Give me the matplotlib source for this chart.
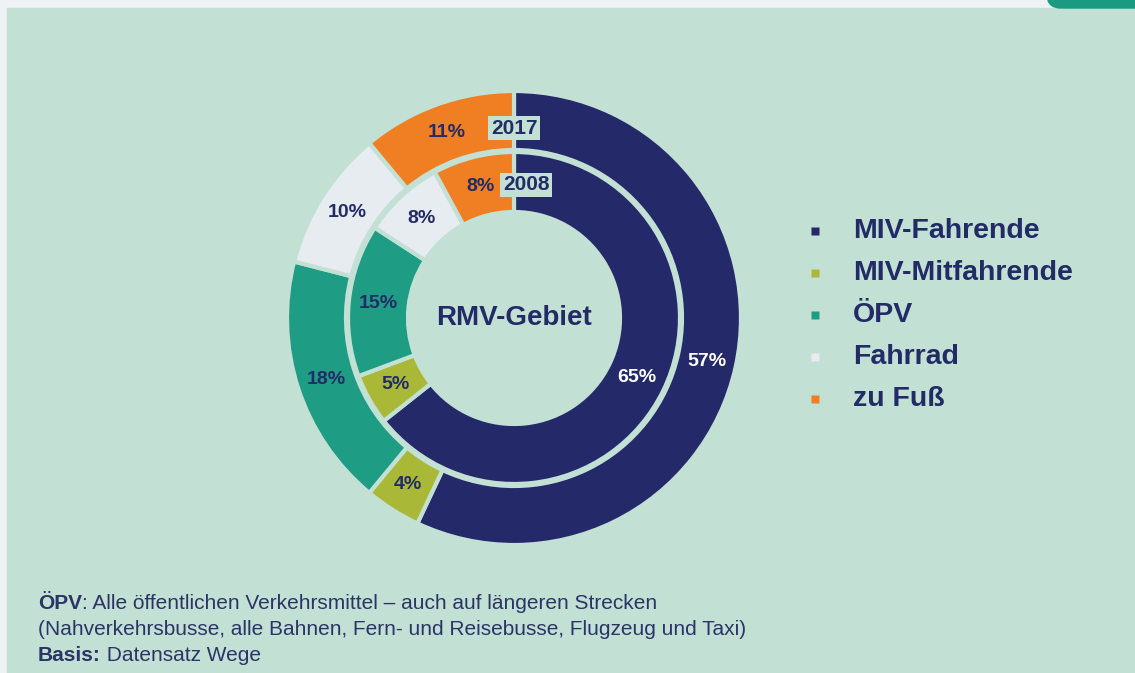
import numpy as np
import matplotlib.pyplot as plt
from matplotlib.patches import Rectangle, FancyBboxPatch

# Modal split RMV-Gebiet, 2017 (outer ring) vs 2008 (inner ring)
categories = ['MIV-Fahrende', 'MIV-Mitfahrende', 'ÖPV', 'Fahrrad', 'zu Fuß']
share_2017 = [57, 4, 18, 10, 11]
share_2008 = [65, 5, 15, 8, 8]
years = ['2017', '2008']

colors = ['#24296a', '#aab838', '#1e9d84', '#e6ecf0', '#ef7f22']
label_colors = ['white', '#222b66', '#222b66', '#222b66', '#222b66']
bg = '#c3e0d4'
navy = '#222b66'

W, H = 1135, 673
fig = plt.figure(figsize=(W / 100, H / 100), dpi=100, facecolor='#eef2f5')
ax = fig.add_axes([0, 0, 1, 1])


def Y(y):
    # pixel row (from top) -> data y
    return H - y


cx, cy = 514, Y(318)
rings = [
    (share_2017, 227, 59),
    (share_2008, 166, 60),
]
for values, r, w in rings:
    wedges, _ = ax.pie(values, radius=r, center=(cx, cy), startangle=90, counterclock=False,
                       colors=colors, frame=True,
                       wedgeprops=dict(width=w, edgecolor=bg, linewidth=3, zorder=2))
    rmid = r - w / 2
    for wedge, v, tc in zip(wedges, values, label_colors):
        ang = np.deg2rad((wedge.theta1 + wedge.theta2) / 2)
        ax.text(cx + rmid * np.cos(ang), cy + rmid * np.sin(ang), f'{v}%',
                ha='center', va='center', fontsize=14, fontweight='bold',
                color=tc, family='Liberation Sans', zorder=3)

ax.set_xlim(0, W)
ax.set_ylim(0, H)
ax.set_aspect('equal')
ax.axis('off')

# background panel + teal corner
ax.add_patch(Rectangle((7, 0), W - 7, Y(8), color=bg, zorder=0))
ax.add_patch(FancyBboxPatch((1047, Y(8)), 200, 60, boxstyle='round,pad=0,rounding_size=14',
                            color='#1a9a80', zorder=0))

# year tags
for yr, (x, y) in zip(years, [(514, 128), (526, 185)]):
    ax.text(x, Y(y), yr, ha='center', va='center', fontsize=15, fontweight='bold',
            color=navy, family='Liberation Sans', zorder=4,
            bbox=dict(boxstyle='square,pad=0.12', fc=bg, ec='none'))

ax.text(cx, cy, 'RMV-Gebiet', ha='center', va='center', fontsize=20, fontweight='bold',
        color=navy, family='Liberation Sans')

# legend
for i, (name, c) in enumerate(zip(categories, colors)):
    y = Y(231 + i * 42)
    ax.plot(815, y, 's', ms=5.5, color=c, mec='none')
    ax.text(853, y, name, ha='left', va='center', fontsize=20.5, fontweight='bold',
            color=navy, family='Liberation Sans')

# footnote (bold lead-in + regular text)
foot = [
    ('ÖPV', ': Alle öffentlichen Verkehrsmittel – auch auf längeren Strecken'),
    ('', '(Nahverkehrsbusse, alle Bahnen, Fern- und Reisebusse, Flugzeug und Taxi)'),
    ('Basis:', ' Datensatz Wege'),
]
fcol = '#2b3466'
renderer = fig.canvas.get_renderer()
for i, (b, rest) in enumerate(foot):
    yb = Y(609 + i * 26)
    x = 38
    if b:
        t = ax.text(x, yb, b, ha='left', va='baseline', fontsize=15, fontweight='bold',
                    color=fcol, family='Liberation Sans')
        x = t.get_window_extent(renderer=renderer).x1
    ax.text(x, yb, rest, ha='left', va='baseline', fontsize=15,
            color=fcol, family='Liberation Sans')

fig.savefig('out.png', dpi=100, facecolor=fig.get_facecolor())
